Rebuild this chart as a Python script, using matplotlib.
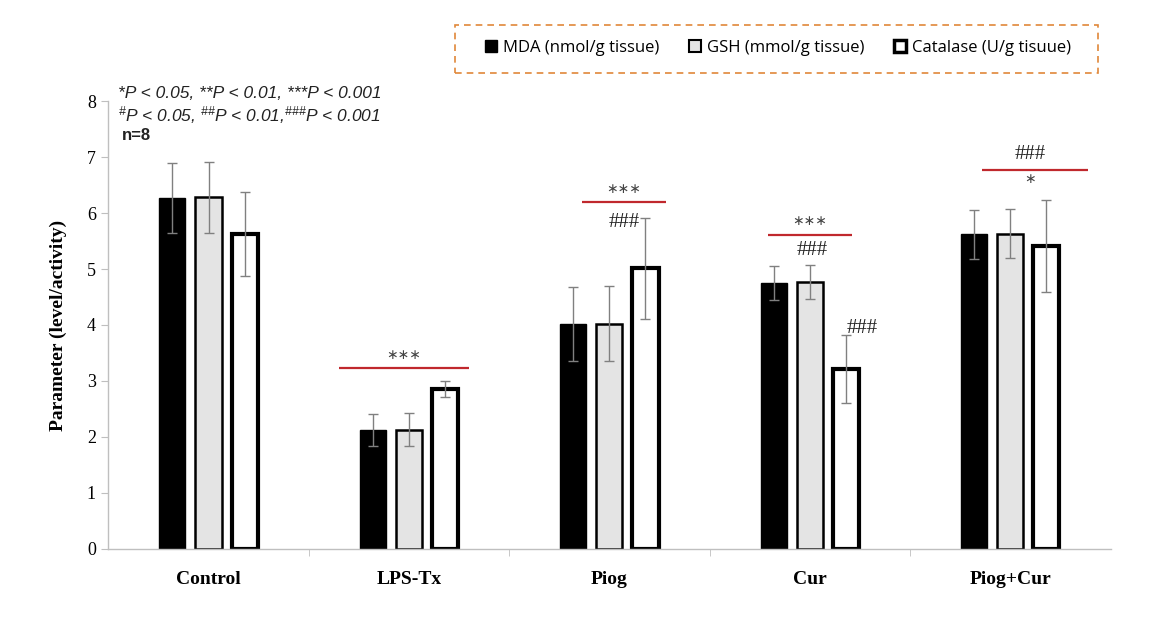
import numpy as np
import matplotlib
matplotlib.use("Agg")
import matplotlib.pyplot as plt
from matplotlib.patches import Patch, Rectangle

plt.rcParams["mathtext.fontset"] = "custom"
plt.rcParams["mathtext.rm"] = "Liberation Sans:italic"
plt.rcParams["mathtext.it"] = "Liberation Sans:italic"
plt.rcParams["mathtext.default"] = "rm"

groups = ["Control", "LPS-Tx", "Piog", "Cur", "Piog+Cur"]
series = ["MDA (nmol/g tissue)", "GSH (mmol/g tissue)", "Catalase (U/g tisuue)"]
mda = [6.27, 2.12, 4.01, 4.75, 5.62]
mda_err = [0.63, 0.29, 0.66, 0.30, 0.44]
gsh = [6.28, 2.13, 4.02, 4.77, 5.63]
gsh_err = [0.63, 0.29, 0.67, 0.30, 0.44]
catalase = [5.63, 2.86, 5.01, 3.22, 5.41]
catalase_err = [0.75, 0.14, 0.90, 0.61, 0.82]
yticks = [0, 1, 2, 3, 4, 5, 6, 7, 8]

fig = plt.figure(figsize=(11.52, 6.28), dpi=100)
ax = fig.add_axes([0.094, 0.126, 0.870, 0.713])

x = np.arange(len(groups))
w = 0.13
off = 0.18
ekw = dict(ecolor="#808080", elinewidth=1.0, capsize=3.5, capthick=1.0)
ax.bar(x - off, mda, w, color="black", edgecolor="black", linewidth=1.0,
       yerr=mda_err, error_kw=ekw, zorder=2)
ax.bar(x, gsh, w, color="#e4e4e4", edgecolor="black", linewidth=1.8,
       yerr=gsh_err, error_kw=ekw, zorder=2)
ax.bar(x + off, catalase, w, color="white", edgecolor="black", linewidth=3.0,
       yerr=catalase_err, error_kw=ekw, zorder=2)

ax.set_xlim(-0.5, len(groups) - 0.5)
ax.set_ylim(0, 8)
ax.set_yticks(yticks)
ax.set_yticklabels([str(t) for t in yticks], fontfamily="Liberation Serif", fontsize=13)
ax.set_xticks(x)
ax.set_xticklabels(groups, fontfamily="Liberation Serif", fontsize=14, fontweight="bold")
ax.set_xticks(np.arange(0.5, len(groups) - 0.5, 1.0), minor=True)
ax.tick_params(axis="x", which="major", length=0, pad=16)
ax.tick_params(axis="x", which="minor", length=5, color="#bfbfbf", direction="out")
ax.tick_params(axis="y", length=5, color="#bfbfbf", pad=4)
for s in ["top", "right"]:
    ax.spines[s].set_visible(False)
for s in ["left", "bottom"]:
    ax.spines[s].set_color("#bfbfbf")
    ax.spines[s].set_linewidth(1.0)
ax.set_ylabel("Parameter (level/activity)", fontfamily="Liberation Serif",
              fontsize=14, fontweight="bold", labelpad=14)

# significance markers
red = "#c0282d"
lines = [(0.65, 1.30, 3.23), (1.865, 2.28, 6.20), (2.79, 3.21, 5.60), (3.86, 4.39, 6.77)]
for x0, x1, yy in lines:
    ax.plot([x0, x1], [yy, yy], color=red, lw=1.6, solid_capstyle="butt", zorder=3)

stars = [(0.975, 3.47, "∗∗∗"), (2.07, 6.43, "∗∗∗"), (3.0, 5.85, "∗∗∗"), (4.1, 6.60, "∗")]
for mx, my, txt in stars:
    ax.text(mx, my, txt, ha="center", va="center", fontsize=10,
            fontfamily="DejaVu Sans", color="#444444")
hashes = [(2.075, 5.84, "###"), (3.01, 5.33, "###"), (3.26, 3.93, "###"), (4.1, 7.04, "###")]
for mx, my, txt in hashes:
    ax.text(mx, my, txt, ha="center", va="center", fontsize=15,
            fontfamily="Liberation Serif", color="#222222")

# p-value key
fig.text(118 / 1152, 1 - 93 / 628,
         "*P < 0.05, **P < 0.01, ***P < 0.001",
         fontfamily="Liberation Sans", fontstyle="italic", fontsize=12.5,
         va="center", ha="left", color="#222222")
fig.text(118 / 1152, 1 - 115 / 628,
         r"$^{\#}$P < 0.05, $^{\#\#}$P < 0.01,$^{\#\#\#}$P < 0.001",
         fontfamily="Liberation Sans", fontstyle="italic", fontsize=12.5,
         va="center", ha="left", color="#222222")
fig.text(122 / 1152, 1 - 136 / 628, "n=8", fontfamily="Liberation Sans",
         fontweight="bold", fontsize=12, va="center", ha="left", color="#222222")

# legend inside a dashed box
fig.patches.append(Rectangle((455 / 1152, 1 - 73 / 628), 643 / 1152, 48 / 628,
                             transform=fig.transFigure, fill=False,
                             edgecolor="#e0883a", linewidth=1.2,
                             linestyle=(0, (4, 3))))
handles = [
    Patch(facecolor="black", edgecolor="black", linewidth=1.0),
    Patch(facecolor="#e4e4e4", edgecolor="black", linewidth=1.5),
    Patch(facecolor="white", edgecolor="black", linewidth=2.5),
]
leg = fig.legend(handles, series, loc="center", ncol=3,
                 bbox_to_anchor=(778 / 1152, 1 - 48 / 628),
                 prop={"family": "Open Sans", "size": 12},
                 handlelength=0.7, handleheight=0.7, handletextpad=0.35,
                 columnspacing=1.8, frameon=False, borderaxespad=0)

fig.savefig("out.png", dpi=100, facecolor="white")
